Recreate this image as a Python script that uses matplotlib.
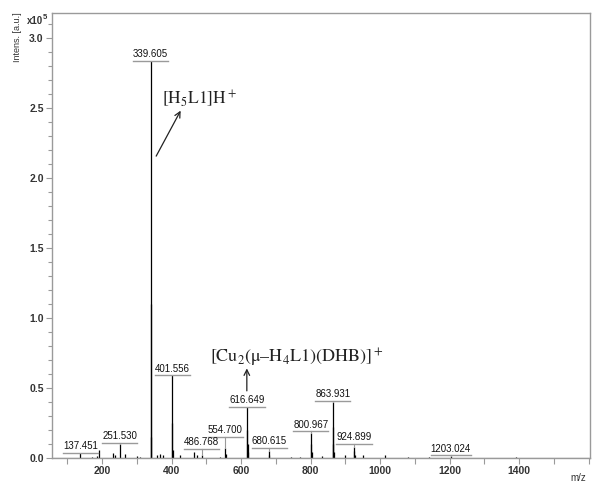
import numpy as np
import matplotlib
matplotlib.use('Agg')
import matplotlib.pyplot as plt
from matplotlib.ticker import MultipleLocator

plt.rcParams['font.family'] = ['Liberation Sans', 'DejaVu Sans']
plt.rcParams['mathtext.fontset'] = 'stix'

# peak list: m/z and intensity (x1e5)
peak_mz = [137.451, 170, 185, 192.0, 231, 236, 251.530, 266, 300, 310,
           339.605, 340.6, 341.6, 359, 368, 376, 401.556, 402.56, 403.5, 425,
           466, 474, 486.768, 540, 554.700, 555.7, 616.649, 617.65, 618.65, 619.6,
           680.615, 681.6, 743, 771, 800.967, 801.97, 802.9, 834,
           863.931, 864.93, 865.93, 866.9, 900, 924.899, 925.9, 926.9,
           952, 1015, 1080, 1140, 1203.024, 1390]
peak_int = [0.036, 0.01, 0.012, 0.06, 0.035, 0.02, 0.10, 0.03, 0.015, 0.01,
            2.84, 1.10, 0.15, 0.02, 0.03, 0.025, 0.59, 0.25, 0.06, 0.02,
            0.045, 0.02, 0.02, 0.01, 0.07, 0.03, 0.364, 0.20, 0.10, 0.04,
            0.05, 0.02, 0.01, 0.01, 0.18, 0.10, 0.04, 0.015,
            0.40, 0.22, 0.10, 0.04, 0.02, 0.08, 0.05, 0.02,
            0.02, 0.02, 0.005, 0.01, 0.015, 0.008]

# labelled peaks and the height of each label's underline
label_mz = [137.451, 251.530, 339.605, 401.556, 486.768, 554.700,
            616.649, 680.615, 800.967, 863.931, 924.899, 1203.024]
label_y = [0.036, 0.107, 2.84, 0.59, 0.064, 0.15,
           0.364, 0.071, 0.19, 0.41, 0.10, 0.02]

fig = plt.figure(figsize=(5.92, 4.84), dpi=100)
ax = fig.add_axes([0.0878, 0.0537, 0.9088, 0.9193])

xmin, xmax = 56, 1604
ax.set_xlim(xmin, xmax)
ax.set_ylim(0, 3.18)

# spectrum: baseline plus stick peaks
ax.plot([xmin, xmax], [0.003, 0.003], color='black', lw=0.8)
ax.vlines(peak_mz, 0, peak_int, color='black', lw=0.9)

gray = '#9a9a9a'
fig.canvas.draw()
inv = ax.transData.inverted()
for m, ly in zip(label_mz, label_y):
    h = peak_int[peak_mz.index(m)]
    t = ax.annotate(f'{m:.3f}', xy=(m, ly), xytext=(0, 1.2), textcoords='offset points',
                    ha='center', va='bottom', fontsize=7, color='#111111')
    bb = t.get_window_extent(renderer=fig.canvas.get_renderer())
    x0 = inv.transform((bb.x0, 0))[0]
    x1 = inv.transform((bb.x1, 0))[0]
    ax.plot([x0, x1], [ly, ly], color=gray, lw=1.0)
    if ly > h:
        ax.plot([m, m], [h, ly], color=gray, lw=0.8)

# assignments
ax.text(372, 2.57, r'$\mathrm{[H_5L1]H^+}$', fontsize=12.5, color='#222222', va='center')
ax.annotate('', xy=(430, 2.50), xytext=(352, 2.14),
            arrowprops=dict(arrowstyle='->', color='#222222', lw=0.9))
ax.text(512, 0.72, '$\\mathrm{[Cu_2(\u03bc\u2013H_4L1)(DHB)]^+}$', fontsize=13,
        color='#222222', va='center')
ax.annotate('', xy=(616.649, 0.66), xytext=(616.649, 0.46),
            arrowprops=dict(arrowstyle='->', color='#222222', lw=0.9))

# axes styling
for s in ax.spines.values():
    s.set_color(gray)
    s.set_linewidth(1.0)
ax.xaxis.set_major_locator(MultipleLocator(200))
ax.xaxis.set_minor_locator(MultipleLocator(100))
ax.yaxis.set_major_locator(MultipleLocator(0.5))
ax.yaxis.set_minor_locator(MultipleLocator(0.1))
ax.tick_params(which='both', direction='out', color=gray, labelcolor='#333333',
               labelsize=7.5)
ax.tick_params(which='major', length=4, width=0.8, pad=2)
ax.tick_params(which='minor', length=3, width=0.8)
ax.tick_params(axis='x', which='both', length=4)
ax.xaxis.set_major_formatter(plt.FuncFormatter(lambda v, p: f'{int(v)}' if 200 <= v <= 1400 else ''))
ax.yaxis.set_major_formatter(plt.FuncFormatter(lambda v, p: f'{v:.1f}'))
for lab in ax.get_xticklabels() + ax.get_yticklabels():
    lab.set_fontweight('bold')

fig.text(0.03, 0.974, 'Intens. [a.u.]', rotation=90, va='top', ha='center',
         fontsize=6.5, color='#333333')
fig.text(0.046, 0.956, 'x10', fontsize=7, fontweight='bold', color='#333333',
         va='center', ha='left')
fig.text(0.0715, 0.964, '5', fontsize=5.5, fontweight='bold', color='#333333',
         va='center', ha='left')
fig.text(0.976, 0.006, 'm/z', fontsize=7, color='#333333', ha='center')

fig.savefig('out.png', dpi=100)
